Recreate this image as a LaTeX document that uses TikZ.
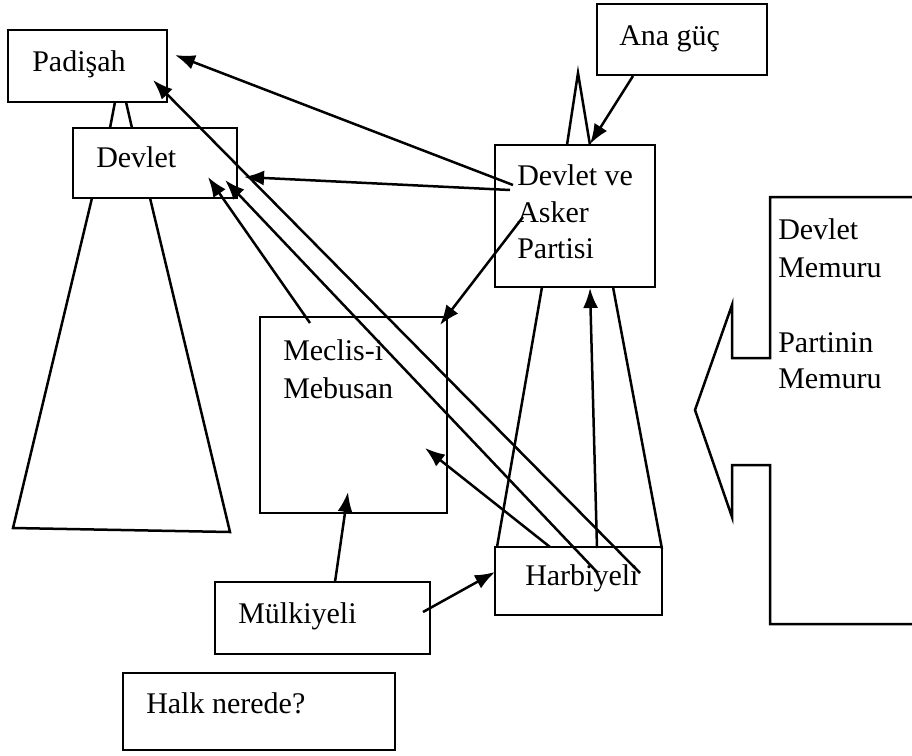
\documentclass[tikz,border=0pt]{standalone}
\usepackage{fontspec}
\setmainfont{Liberation Serif}
\usetikzlibrary{arrows.meta}
\begin{document}
\begin{tikzpicture}[x=1pt,y=-1pt,
  line width=2.5pt, line join=miter,
  box/.style={draw, inner sep=0pt, line width=2.5pt},
  txt/.style={anchor=base west, inner sep=0pt, font=\fontsize{30}{36}\selectfont},
  arr/.style={-{Latex[length=20pt,width=15pt]}},
  plain/.style={line width=2.5pt}]
\useasboundingbox (0,0) rectangle (912,755);
% boxes
\node[box, minimum width=159pt, minimum height=72pt] (pad) at (87.5,66) {};
\node[box, minimum width=164pt, minimum height=70pt] (dev) at (155,163) {};
\node[box, minimum width=170pt, minimum height=71pt] (ana) at (682,39.5) {};
\node[box, minimum width=160pt, minimum height=142pt] (dap) at (575,216) {};
\node[box, minimum width=187pt, minimum height=196pt] (mec) at (353.5,415) {};
\node[box, minimum width=167pt, minimum height=68pt] (har) at (578.5,581) {};
\node[box, minimum width=215pt, minimum height=72pt] (mul) at (322.5,618) {};
\node[box, minimum width=272pt, minimum height=77pt] (halk) at (259,711.5) {};
% texts
\node[txt] (tpad) at (31,71) {Padişah};
\node[txt] (tdev) at (95,167) {Devlet};
\node[txt] (tana) at (618,45) {Ana güç};
\node[txt] (tdap1) at (516,185) {Devlet ve};
\node[txt] (tdap2) at (516,222) {Asker};
\node[txt] (tdap3) at (516,258) {Partisi};
\node[txt] (tmec1) at (282,360) {Meclis-i};
\node[txt] (tmec2) at (282,398) {Mebusan};
\node[txt] (thar) at (524,585) {Harbiyeli};
\node[txt] (tmul) at (237,623) {Mülkiyeli};
\node[txt] (thalk) at (145,713) {Halk nerede?};
\node[txt] (tm1) at (777,239) {Devlet};
\node[txt] (tm2) at (777,277) {Memuru};
\node[txt] (tm3) at (777,352) {Partinin};
\node[txt] (tm4) at (777,388) {Memuru};
% shapes
\draw[plain] (115,102) -- (110,128) (126,102) -- (132,128);
\draw[plain] (92,198) -- (13,528) -- (230,532) -- (150,198);
\draw[plain] (567,145) -- (578,73) -- (590,145);
\draw[plain] (542,287) -- (497,547) (613,287) -- (662,549);
\draw[plain] (916,197) -- (770,197) -- (770,358) -- (732,358) -- (732,305)
  -- (695,410) -- (732,517) -- (732,465) -- (770,465) -- (770,624) -- (916,624);
% connector ends
\coordinate (anaS) at (633,76);
\coordinate (dapN) at (590,144);
\coordinate (dapA) at (513,185);
\coordinate (padT1) at (175,55);
\coordinate (dapB) at (510,190);
\coordinate (devT1) at (244,177);
\coordinate (dapC) at (523,217);
\coordinate (mecT1) at (440,325);
\coordinate (mecN) at (310,323);
\coordinate (devT2) at (208,177);
\coordinate (harA) at (597,572);
\coordinate (devT3) at (225,180);
\coordinate (harB) at (640,573);
\coordinate (padT2) at (153,80);
\coordinate (harC) at (550,547);
\coordinate (mecT2) at (425,448);
\coordinate (harD) at (597,548);
\coordinate (dapS) at (590,288);
\coordinate (mulN) at (335,582);
\coordinate (mecS) at (348,492);
\coordinate (mulE) at (423,612);
\coordinate (harW) at (495,572);
% connectors
\draw[arr] (anaS) -- (dapN);
\draw[arr] (dapA) -- (padT1);
\draw[arr] (dapB) -- (devT1);
\draw[arr] (dapC) -- (mecT1);
\draw[arr] (mecN) -- (devT2);
\draw[arr] (harA) -- (devT3);
\draw[arr] (harB) -- (padT2);
\draw[arr] (harC) -- (mecT2);
\draw[arr] (harD) -- (dapS);
\draw[arr] (mulN) -- (mecS);
\draw[arr] (mulE) -- (harW);
\end{tikzpicture}
\end{document}
